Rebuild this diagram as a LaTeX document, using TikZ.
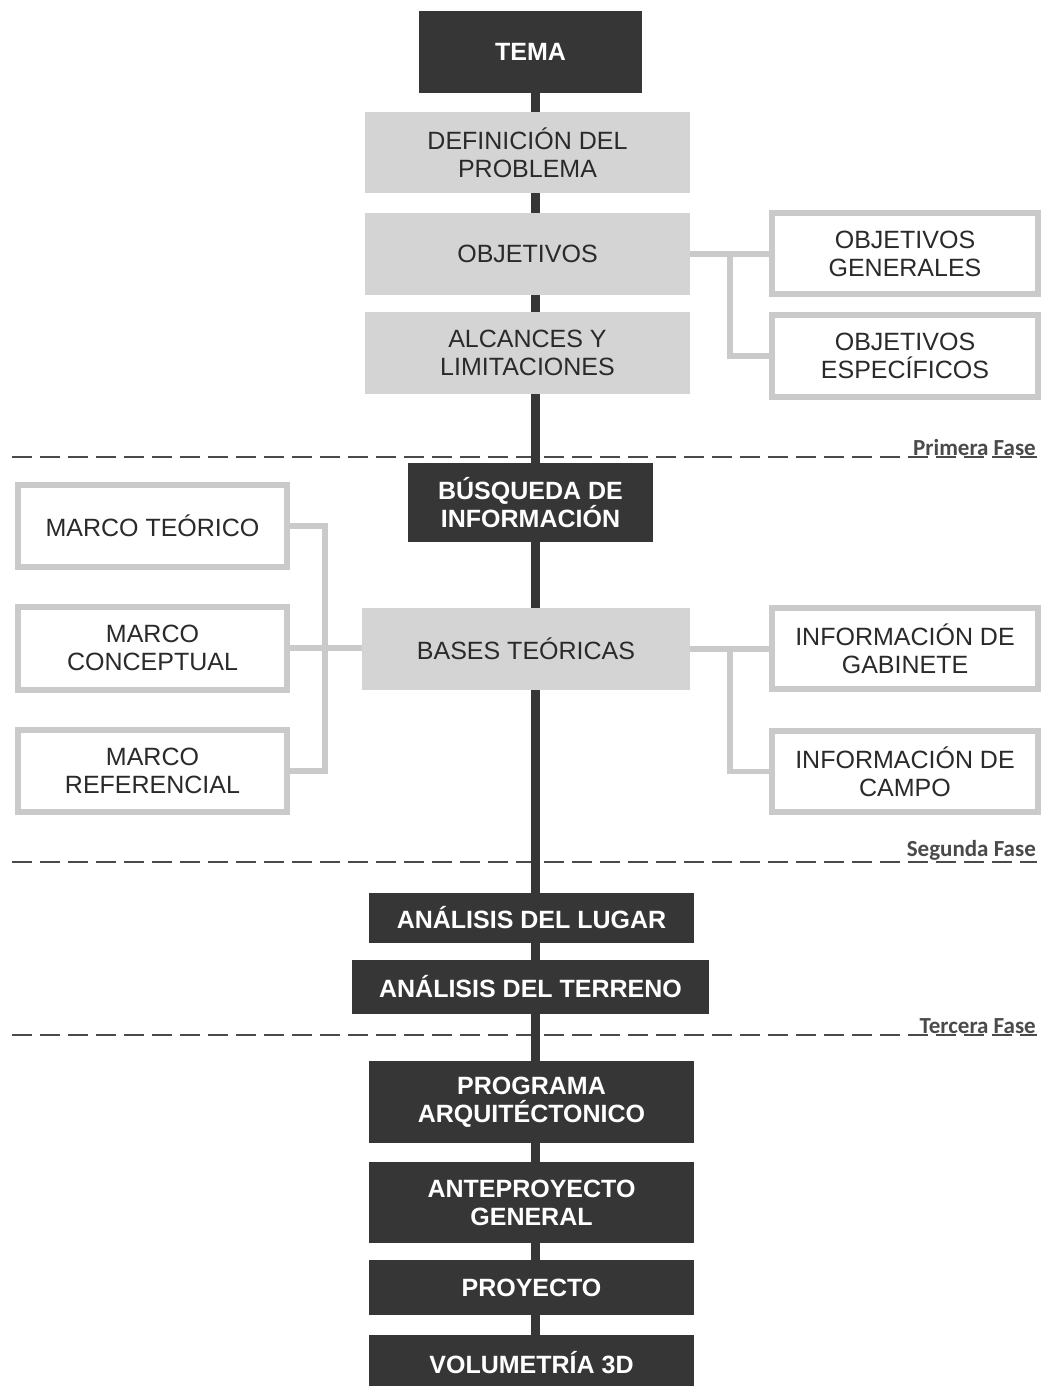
\documentclass[tikz,border=0pt]{standalone}
\usepackage{fontspec}
\setmainfont{Liberation Sans}
\newfontfamily\phasefont{Carlito}
\usetikzlibrary{calc,backgrounds}
\definecolor{dk}{HTML}{363636}
\definecolor{lt}{HTML}{D4D4D4}
\definecolor{edge}{HTML}{CACACA}
\definecolor{ink}{HTML}{2A2A2A}
\definecolor{dash}{HTML}{4A4A4A}
\tikzset{
  x=1pt, y=-1pt,
  box/.style={rectangle, inner sep=0pt, align=center,
    font=\fontsize{25}{28}\selectfont},
  darkbox/.style={box, fill=dk, text=white, font=\fontsize{25}{28}\selectfont\bfseries},
  greybox/.style={box, fill=lt, text=ink},
  whitebox/.style={box, fill=white, draw=edge, line width=6pt, text=ink},
  spine/.style={draw=dk, line width=9pt},
  link/.style={draw=edge, line width=5.5pt},
  divider/.style={draw=dash, line width=2pt, dash pattern=on 20pt off 8pt},
  phaselabel/.style={anchor=south east, inner sep=1pt, text=dash,
    font=\phasefont\fontsize{23}{26}\selectfont\bfseries},
}
\begin{document}
\begin{tikzpicture}
\useasboundingbox (0,0) rectangle (1041,1386);

% central column
\node[darkbox, minimum width=223, minimum height=82] (tema) at (530.5,52) {TEMA};
\node[greybox, minimum width=325, minimum height=81] (def) at (527.5,152.5) {DEFINICIÓN DEL\\PROBLEMA};
\node[greybox, minimum width=325, minimum height=82] (obj) at (527.5,254) {OBJETIVOS};
\node[greybox, minimum width=325, minimum height=82] (alc) at (527.5,353) {ALCANCES Y\\LIMITACIONES};
\node[darkbox, minimum width=245, minimum height=79] (bus) at (530.5,502.5) {BÚSQUEDA DE\\INFORMACIÓN};
\node[greybox, minimum width=328, minimum height=82] (bases) at (526,649) {BASES TEÓRICAS};
\node[darkbox, minimum width=325, minimum height=50] (lugar) at (531.5,918) {ANÁLISIS DEL LUGAR};
\node[darkbox, minimum width=357, minimum height=54] (terreno) at (530.5,987) {ANÁLISIS DEL TERRENO};
\node[darkbox, minimum width=325, minimum height=82] (prog) at (531.5,1102) {PROGRAMA\\ARQUITÉCTONICO};
\node[darkbox, minimum width=325, minimum height=81] (ante) at (531.5,1202.5) {ANTEPROYECTO\\GENERAL};
\node[darkbox, minimum width=325, minimum height=55] (proy) at (531.5,1287.5) {PROYECTO};
\node[darkbox, minimum width=325, minimum height=55] (vol) at (531.5,1362.5) {VOLUMETRÍA 3D};

% side boxes
\node[whitebox, minimum width=266, minimum height=81] (og) at (905,253.5) {OBJETIVOS\\GENERALES};
\node[whitebox, minimum width=266, minimum height=82] (oe) at (905,356) {OBJETIVOS\\ESPECÍFICOS};
\node[whitebox, minimum width=269, minimum height=82] (mt) at (152.5,526) {MARCO TEÓRICO};
\node[whitebox, minimum width=269, minimum height=83] (mc) at (152.5,648) {MARCO\\CONCEPTUAL};
\node[whitebox, minimum width=269, minimum height=82] (mr) at (152.5,771) {MARCO\\REFERENCIAL};
\node[whitebox, minimum width=266, minimum height=81] (ig) at (905,648.5) {INFORMACIÓN DE\\GABINETE};
\node[whitebox, minimum width=266, minimum height=81] (ic) at (905,771.5) {INFORMACIÓN DE\\CAMPO};

% junction points
\coordinate (sx) at (535,0);
\coordinate (objj) at (730,0);
\coordinate (basj) at (730,0);
\coordinate (marj) at (325,0);

% phase dividers
\coordinate (d1a) at (12,457);   \coordinate (d1b) at (1037,457);
\coordinate (d2a) at (12,862);   \coordinate (d2b) at (1037,862);
\coordinate (d3a) at (12,1035);  \coordinate (d3b) at (1037,1035);

\begin{scope}[on background layer]
  \fill[white] (0,0) rectangle (1041,1386);
  \draw[divider] (d1a) -- (d1b);
  \draw[divider] (d2a) -- (d2b);
  \draw[divider] (d3a) -- (d3b);
  % main spine
  \draw[spine] (tema.south -| sx) -- (def.north -| sx);
  \draw[spine] (def.south -| sx) -- (obj.north -| sx);
  \draw[spine] (obj.south -| sx) -- (alc.north -| sx);
  \draw[spine] (alc.south -| sx) -- (bus.north -| sx);
  \draw[spine] (bus.south -| sx) -- (bases.north -| sx);
  \draw[spine] (bases.south -| sx) -- (lugar.north -| sx);
  \draw[spine] (lugar.south -| sx) -- (terreno.north -| sx);
  \draw[spine] (terreno.south -| sx) -- (prog.north -| sx);
  \draw[spine] (prog.south -| sx) -- (ante.north -| sx);
  \draw[spine] (ante.south -| sx) -- (proy.north -| sx);
  \draw[spine] (proy.south -| sx) -- (vol.north -| sx);
  % branches
  \draw[link] (obj.east) -- (obj.east -| og.west);
  \draw[link] (obj.east -| objj) |- (oe.west);
  \draw[link] (bases.east) -- (bases.east -| ig.west);
  \draw[link] (bases.east -| basj) |- (ic.west);
  \draw[link] (mt.east) -- (mt.east -| marj) -- (mr.east -| marj) -- (mr.east);
  \draw[link] (mc.east) -- (mc.east -| bases.west);
\end{scope}

\node[phaselabel] (p1) at (d1b) {Primera Fase};
\node[phaselabel] (p2) at (d2b) {Segunda Fase};
\node[phaselabel] (p3) at (d3b) {Tercera Fase};
\end{tikzpicture}
\end{document}
